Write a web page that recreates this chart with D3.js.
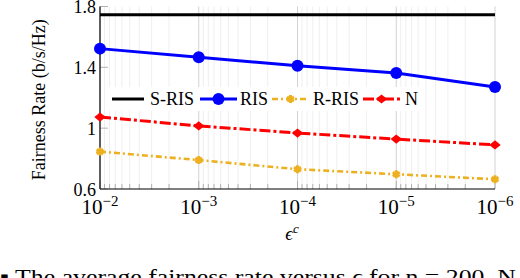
<!DOCTYPE html>
<html>
<head>
<meta charset="utf-8">
<script src="https://cdn.jsdelivr.net/npm/d3@7"></script>
<style>
  body { margin: 0; background: #fff; }
  svg text, svg tspan { font-family: "Liberation Serif" !important; }
</style>
</head>
<body>
<svg id="chart" width="520" height="278"></svg>
<script>
// epsilon^c values on the x axis (reversed log scale)
var epsValues = [1e-2, 1e-3, 1e-4, 1e-5, 1e-6]
var xTickExps = [-2, -3, -4, -5, -6]
var yTicks = [0.6, 1, 1.4, 1.8]

var sris = [1.745, 1.745, 1.745, 1.745, 1.745]
var ris  = [1.523, 1.466, 1.410, 1.363, 1.271]
var rris = [0.846, 0.790, 0.730, 0.697, 0.664]
var nVal = [1.073, 1.015, 0.968, 0.928, 0.890]

var seriesNames = ["S-RIS", "RIS", "R-RIS", "N"]

var FONT = "Liberation Serif"

var dimensions = ({
  width: 520,
  height: 278,
  margin: { top: 6.5, right: 25, bottom: 89, left: 100 }
})

var svg = d3.select("#chart").style("font-family", FONT)

var xScale = d3.scaleLog()
  .domain([1e-2, 1e-6])
  .range([dimensions.margin.left, dimensions.width - dimensions.margin.right])

var yScale = d3.scaleLinear()
  .domain([0.6, 1.8])
  .range([dimensions.height - dimensions.margin.bottom, dimensions.margin.top])

var yTop = yScale(1.8), yBottom = yScale(0.6)

// minor positions 2..9 times each decade
var minor = []
for (var k = -6; k < -2; k++) {
  for (var m = 2; m <= 9; m++) minor.push(m * Math.pow(10, k))
}

var grid = svg.append("g")
grid.selectAll(".minor").data(minor).enter().append("line")
  .attr("x1", d => xScale(d)).attr("x2", d => xScale(d))
  .attr("y1", yTop).attr("y2", yBottom)
  .attr("stroke", "#ebebeb").attr("stroke-width", 0.8)
grid.selectAll(".major").data(epsValues).enter().append("line")
  .attr("x1", d => xScale(d)).attr("x2", d => xScale(d))
  .attr("y1", yTop).attr("y2", yBottom)
  .attr("stroke", "#d2d2d2").attr("stroke-width", 1)

// axis ticks (gray, inward)
var ticks = svg.append("g").attr("stroke", "#aaaaaa").attr("stroke-width", 0.9)
ticks.selectAll(".mt").data(minor).enter().append("line")
  .attr("x1", d => xScale(d)).attr("x2", d => xScale(d))
  .attr("y1", yBottom).attr("y2", yBottom - 5)
ticks.selectAll(".Mt").data(epsValues).enter().append("line")
  .attr("x1", d => xScale(d)).attr("x2", d => xScale(d))
  .attr("y1", yBottom).attr("y2", yBottom - 8)
ticks.selectAll(".yt").data(yTicks).enter().append("line")
  .attr("x1", xScale(1e-2)).attr("x2", xScale(1e-2) + 8)
  .attr("y1", d => yScale(d)).attr("y2", d => yScale(d))

// axis lines
svg.append("line")
  .attr("x1", xScale(1e-2)).attr("x2", xScale(1e-2))
  .attr("y1", yTop).attr("y2", yBottom)
  .attr("stroke", "black").attr("stroke-width", 1.2)
svg.append("line")
  .attr("x1", xScale(1e-2)).attr("x2", xScale(1e-6))
  .attr("y1", yBottom).attr("y2", yBottom)
  .attr("stroke", "black").attr("stroke-width", 1.2)

// tick labels
svg.append("g").selectAll("text").data(yTicks).enter().append("text")
  .style("font-family", FONT)
  .attr("x", xScale(1e-2) - 4)
  .attr("y", d => yScale(d) + 6.5)
  .attr("text-anchor", "end")
  .attr("font-size", 18)
  .text(d => d3.format("~g")(d))

var xl = svg.append("g").selectAll("text").data(xTickExps).enter().append("text")
  .style("font-family", FONT)
  .attr("x", d => xScale(Math.pow(10, d)))
  .attr("y", yBottom + 25)
  .attr("text-anchor", "middle")
  .attr("font-size", 21)
xl.append("tspan").text("10")
xl.append("tspan").attr("dy", -8).attr("font-size", 15).text(d => "\u2212" + Math.abs(d))

// axis titles
svg.append("text")
  .style("font-family", FONT)
  .attr("transform", "translate(45," + ((yTop + yBottom) / 2 + 2) + ") rotate(-90)")
  .attr("text-anchor", "middle")
  .attr("font-size", 18)
  .text("Fairness Rate (b/s/Hz)")

var xt = svg.append("text")
  .style("font-family", FONT)
  .attr("x", 292).attr("y", 240)
  .attr("text-anchor", "middle")
  .attr("font-size", 19)
  .attr("font-style", "italic")
xt.append("tspan").text("\u03f5")
xt.append("tspan").attr("dy", -7).attr("font-size", 13).text("c")

// series
var diamond = {
  draw: function (ctx, size) {
    var w = Math.sqrt(size) * 0.62, h = Math.sqrt(size) * 0.5
    ctx.moveTo(0, -h); ctx.lineTo(w, 0); ctx.lineTo(0, h); ctx.lineTo(-w, 0); ctx.closePath()
  }
}

var series = [
  { name: "S-RIS", values: sris, color: "black", dash: null, marker: null },
  { name: "RIS", values: ris, color: "#0000ff", dash: null, marker: "circle" },
  { name: "R-RIS", values: rris, color: "#EDB120", dash: "6,3,2,3", marker: "asterisk" },
  { name: "N", values: nVal, color: "#ff0000", dash: "11,3,3,3", marker: "diamond" }
]

var lineGen = d3.line()
  .x((d, i) => xScale(epsValues[i]))
  .y(d => yScale(d))

function drawMarker(g, type, color, x, y) {
  if (type === "circle") {
    g.append("circle").attr("cx", x).attr("cy", y).attr("r", 6).attr("fill", color)
  } else if (type === "diamond") {
    g.append("path").attr("d", d3.symbol().type(diamond).size(85)())
      .attr("transform", "translate(" + x + "," + y + ")").attr("fill", color)
  } else if (type === "asterisk") {
    g.append("path").attr("d", d3.symbol().type(d3.symbolAsterisk).size(45)())
      .attr("transform", "translate(" + x + "," + y + ")")
      .attr("fill", "none").attr("stroke", color).attr("stroke-width", 3)
  }
}

series.forEach(function (s) {
  var g = svg.append("g")
  g.append("path")
    .datum(s.values)
    .attr("d", lineGen)
    .attr("fill", "none")
    .attr("stroke", s.color)
    .attr("stroke-width", s.name === "R-RIS" ? 2.6 : 3)
    .attr("stroke-dasharray", s.dash)
  if (s.marker) {
    s.values.forEach(function (v, i) {
      drawMarker(g, s.marker, s.color, xScale(epsValues[i]), yScale(v))
    })
  }
})

// legend (white box, no border)
var legend = svg.append("g")
legend.append("rect")
  .attr("x", 106).attr("y", 87).attr("width", 318).attr("height", 24)
  .attr("fill", "white")
var legendItems = [
  { x0: 112, x1: 144, tx: 150 },
  { x0: 200, x1: 237, tx: 240 },
  { x0: 272, x1: 309, tx: 313 },
  { x0: 363, x1: 400, tx: 405 }
]
series.forEach(function (s, i) {
  var it = legendItems[i], ly = 99
  legend.append("line")
    .attr("x1", it.x0).attr("x2", it.x1).attr("y1", ly).attr("y2", ly)
    .attr("stroke", s.color).attr("stroke-width", s.name === "R-RIS" ? 2.6 : 3)
    .attr("stroke-dasharray", s.dash)
  if (s.marker) drawMarker(legend, s.marker, s.color, (it.x0 + it.x1) / 2, ly)
  legend.append("text")
    .style("font-family", FONT)
    .attr("x", it.tx).attr("y", ly + 6)
    .attr("font-size", 18)
    .text(seriesNames[i])
})

// caption, cut by the bottom edge
svg.append("text")
  .style("font-family", FONT)
  .attr("x", 0).attr("y", 284)
  .attr("font-size", 22)
  .attr("textLength", 516)
  .attr("lengthAdjust", "spacingAndGlyphs")
  .text("\u25aa The average fairness rate versus \u03f5 for n = 200, N")
</script>
</body>
</html>
